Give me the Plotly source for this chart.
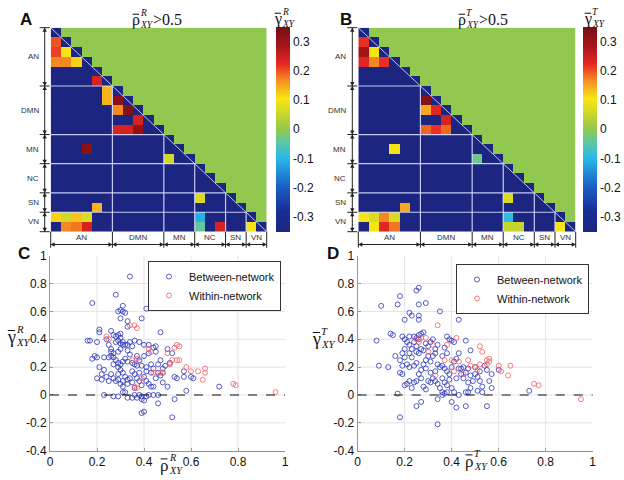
import plotly.graph_objects as go

# ---------------- data ----------------
group_names = ["AN", "DMN", "MN", "NC", "SN", "VN"]
group_sizes = [6, 5, 3, 3, 2, 2]

# Panel A: significant cells of the lower triangle (row, col, value)
a_rows = [1, 2, 2, 3, 3, 3, 5, 6, 7, 7, 8, 8, 9, 10, 10, 10, 12, 13, 17, 18, 19, 19, 19, 19, 19, 20, 20, 20, 20, 20, 20]
a_cols = [0, 0, 1, 0, 1, 2, 4, 5, 5, 6, 6, 7, 8, 6, 7, 8, 3, 11, 14, 4, 0, 1, 2, 3, 14, 1, 2, 3, 14, 16, 19]
a_vals = [0.20, 0.21, 0.10, 0.17, 0.17, 0.12, 0.24, 0.14, 0.14, 0.32, 0.17, 0.33, 0.24, 0.24, 0.24, 0.31,
          0.32, 0.06, 0.07, 0.14, 0.12, 0.06, 0.13, 0.07, -0.11, 0.17, 0.18, 0.24, -0.04, 0.24, 0.10]

# Panel B
b_rows = [1, 2, 2, 3, 3, 3, 7, 8, 8, 9, 10, 10, 10, 12, 13, 17, 18, 19, 19, 19, 19, 19, 20, 20, 20, 20, 20, 20]
b_cols = [0, 0, 1, 0, 1, 2, 6, 6, 7, 8, 6, 7, 8, 3, 11, 14, 4, 0, 1, 2, 3, 14, 1, 2, 3, 14, 15, 19]
b_vals = [0.22, 0.29, 0.10, 0.23, 0.17, 0.22, 0.33, 0.15, 0.23, 0.24, 0.19, 0.22, 0.19, 0.10, -0.03,
          0.07, 0.15, 0.10, 0.07, 0.17, 0.07, -0.09, 0.10, 0.23, 0.18, 0.05, 0.05, 0.10]

z_floor = -0.35   # non-significant cells
z_upper = 0.0     # upper triangle
cbar_vals = [-0.3, -0.2, -0.1, 0, 0.1, 0.2, 0.3]
cbar_text = ["-0.3", "-0.2", "-0.1", "0", "0.1", "0.2", "0.3"]

# Panel C (R)
c_between_x = [0.34, 0.28, 0.18, 0.41, 0.29, 0.30, 0.31, 0.31, 0.32, 0.39,
               0.33, 0.30, 0.33, 0.47, 0.21, 0.21, 0.26, 0.16, 0.17, 0.20,
               0.27, 0.28, 0.29, 0.30, 0.30, 0.29, 0.31, 0.30, 0.31, 0.32,
               0.33, 0.34, 0.36, 0.35, 0.38, 0.40, 0.42, 0.44, 0.45, 0.45,
               0.42, 0.40, 0.26, 0.26, 0.27, 0.25, 0.26, 0.27, 0.25, 0.23,
               0.20, 0.19, 0.18, 0.28, 0.29, 0.30, 0.27, 0.29, 0.31, 0.33,
               0.35, 0.36, 0.37, 0.38, 0.39, 0.41, 0.43, 0.44, 0.46, 0.47,
               0.48, 0.49, 0.51, 0.50, 0.52, 0.21, 0.23, 0.22, 0.24, 0.26,
               0.27, 0.28, 0.29, 0.30, 0.31, 0.32, 0.33, 0.34, 0.35, 0.36,
               0.37, 0.38, 0.40, 0.41, 0.42, 0.43, 0.44, 0.45, 0.46, 0.48,
               0.50, 0.53, 0.54, 0.57, 0.58, 0.57, 0.60, 0.61, 0.72, 0.23,
               0.27, 0.29, 0.31, 0.32, 0.33, 0.35, 0.36, 0.37, 0.38, 0.39,
               0.39, 0.40, 0.41, 0.42, 0.44, 0.46, 0.46, 0.53, 0.39, 0.40,
               0.52, 0.22, 0.20, 0.25, 0.30, 0.31, 0.36, 0.24, 0.28, 0.33,
               0.37, 0.34, 0.32, 0.29, 0.30, 0.43, 0.41, 0.38, 0.35, 0.33,
               0.31, 0.29, 0.39, 0.47, 0.48]
c_between_y = [0.85, 0.72, 0.66, 0.62, 0.60, 0.61, 0.60, 0.64, 0.59, 0.55,
               0.53, 0.55, 0.49, 0.45, 0.47, 0.45, 0.46, 0.39, 0.39, 0.38,
               0.43, 0.42, 0.43, 0.44, 0.41, 0.39, 0.38, 0.37, 0.36, 0.36,
               0.36, 0.38, 0.39, 0.35, 0.38, 0.36, 0.36, 0.34, 0.35, 0.31,
               0.30, 0.28, 0.33, 0.31, 0.30, 0.36, 0.28, 0.27, 0.27, 0.27,
               0.27, 0.28, 0.26, 0.25, 0.23, 0.22, 0.22, 0.20, 0.24, 0.24,
               0.23, 0.22, 0.21, 0.25, 0.21, 0.20, 0.22, 0.19, 0.22, 0.25,
               0.19, 0.21, 0.23, 0.33, 0.30, 0.20, 0.18, 0.15, 0.13, 0.15,
               0.12, 0.10, 0.15, 0.18, 0.16, 0.13, 0.11, 0.12, 0.17, 0.15,
               0.12, 0.10, 0.13, 0.10, 0.08, 0.06, 0.06, 0.12, 0.16, 0.09,
               0.06, 0.13, 0.12, 0.13, 0.03, 0.17, 0.13, 0.12, 0.06, 0.00,
               -0.01, -0.01, 0.02, 0.02, -0.02, -0.02, 0.00, -0.02, 0.00, -0.01,
               -0.03, -0.04, -0.01, 0.00, 0.00, 0.00, -0.06, -0.03, -0.13, -0.12,
               -0.16, 0.11, 0.12, 0.10, 0.08, 0.06, 0.05, 0.40, 0.38, 0.32,
               0.28, 0.29, 0.26, 0.31, 0.33, 0.16, 0.17, 0.16, 0.09, 0.08,
               0.10, 0.11, 0.07, 0.14, 0.16]
c_within_x = [0.24, 0.25, 0.34, 0.36, 0.37, 0.35, 0.37, 0.38, 0.36, 0.37,
              0.42, 0.43, 0.44, 0.47, 0.48, 0.50, 0.52, 0.53, 0.54, 0.55,
              0.54, 0.55, 0.51, 0.58, 0.60, 0.63, 0.66, 0.66, 0.65, 0.78,
              0.79, 0.96, 0.39]
c_within_y = [0.42, 0.40, 0.50, 0.50, 0.48, 0.25, 0.26, 0.24, 0.06, 0.05,
              0.33, 0.31, 0.16, 0.16, 0.16, 0.30, 0.25, 0.34, 0.36, 0.35,
              0.25, 0.25, 0.22, 0.20, 0.17, 0.17, 0.19, 0.16, 0.11, 0.08,
              0.07, 0.02, 0.12]

# Panel D (T)
d_between_x = [0.25, 0.26, 0.18, 0.10, 0.17, 0.26, 0.29, 0.22, 0.23, 0.26,
               0.26, 0.20, 0.35, 0.43, 0.08, 0.14, 0.15, 0.19, 0.20, 0.22,
               0.24, 0.25, 0.26, 0.27, 0.28, 0.21, 0.22, 0.23, 0.25, 0.25,
               0.26, 0.31, 0.32, 0.38, 0.39, 0.40, 0.41, 0.46, 0.43, 0.48,
               0.19, 0.20, 0.18, 0.21, 0.22, 0.18, 0.19, 0.21, 0.22, 0.24,
               0.25, 0.27, 0.28, 0.29, 0.30, 0.31, 0.32, 0.33, 0.34, 0.35,
               0.36, 0.37, 0.38, 0.39, 0.30, 0.31, 0.32, 0.33, 0.34, 0.35,
               0.36, 0.37, 0.38, 0.40, 0.41, 0.42, 0.43, 0.44, 0.45, 0.46,
               0.47, 0.48, 0.49, 0.50, 0.52, 0.53, 0.54, 0.55, 0.53, 0.57,
               0.56, 0.57, 0.60, 0.73, 0.17, 0.27, 0.25, 0.18, 0.34, 0.34,
               0.40, 0.42, 0.46, 0.55, 0.46, 0.47, 0.51, 0.43, 0.09, 0.13,
               0.19, 0.16, 0.20, 0.23, 0.24, 0.26, 0.27, 0.28, 0.29, 0.23,
               0.20, 0.28, 0.30, 0.33, 0.34, 0.29, 0.31, 0.33, 0.36, 0.37,
               0.39, 0.40, 0.41, 0.42, 0.44, 0.45, 0.47, 0.48, 0.51, 0.52,
               0.50, 0.24, 0.26, 0.27, 0.29, 0.36, 0.37, 0.38, 0.38, 0.36,
               0.25, 0.22]
d_between_y = [0.75, 0.77, 0.71, 0.64, 0.65, 0.65, 0.66, 0.59, 0.57, 0.57,
               0.54, 0.54, 0.60, 0.54, 0.39, 0.44, 0.43, 0.42, 0.40, 0.42,
               0.42, 0.41, 0.43, 0.44, 0.45, 0.38, 0.36, 0.33, 0.31, 0.35,
               0.30, 0.38, 0.40, 0.42, 0.40, 0.39, 0.38, 0.39, 0.30, 0.32,
               0.30, 0.27, 0.25, 0.22, 0.20, 0.16, 0.15, 0.08, 0.10, 0.09,
               0.10, 0.18, 0.22, 0.25, 0.28, 0.24, 0.28, 0.30, 0.22, 0.20,
               0.21, 0.19, 0.17, 0.15, 0.10, 0.09, 0.12, 0.10, 0.08, 0.05,
               0.02, 0.01, 0.07, 0.05, 0.02, 0.12, 0.19, 0.19, 0.20, 0.16,
               0.19, 0.14, 0.10, 0.15, 0.10, 0.06, 0.21, 0.18, 0.02, 0.15,
               0.10, 0.05, 0.18, 0.03, 0.01, -0.05, -0.08, -0.16, -0.21, -0.03,
               -0.05, -0.09, -0.08, -0.08, 0.02, 0.02, 0.03, 0.00, 0.21, 0.20,
               0.21, 0.28, 0.33, 0.27, 0.21, 0.15, 0.12, 0.06, 0.04, 0.05,
               0.07, 0.32, 0.35, 0.33, 0.36, 0.19, 0.16, 0.17, 0.12, 0.09,
               0.11, 0.20, 0.24, 0.26, 0.15, 0.12, 0.09, 0.05, 0.13, 0.17,
               0.20, 0.38, 0.40, 0.33, 0.37, 0.28, 0.34, 0.30, 0.02, 0.00,
               0.23, 0.30]
d_within_x = [0.25, 0.26, 0.27, 0.29, 0.32, 0.34, 0.38, 0.42, 0.37, 0.40,
              0.43, 0.47, 0.33, 0.45, 0.48, 0.50, 0.52, 0.53, 0.55, 0.56,
              0.55, 0.56, 0.52, 0.51, 0.60, 0.61, 0.64, 0.65, 0.75, 0.77,
              0.95, 0.41, 0.30]
d_within_y = [0.40, 0.38, 0.41, 0.41, 0.36, 0.50, 0.36, 0.41, 0.25, 0.25,
              0.24, 0.25, 0.14, 0.15, 0.21, 0.20, 0.35, 0.31, 0.25, 0.24,
              0.22, 0.26, 0.22, 0.18, 0.21, 0.17, 0.14, 0.21, 0.08, 0.07,
              -0.03, 0.17, 0.31]

sc_xticks = [0, 0.2, 0.4, 0.6, 0.8, 1]
sc_xtext = ["0", "0.2", "0.4", "0.6", "0.8", "1"]
sc_yticks = [-0.4, -0.2, 0, 0.2, 0.4, 0.6, 0.8, 1]
sc_ytext = ["-0.4", "-0.2", "0", "0.2", "0.4", "0.6", "0.8", "1"]

# ---------------- helpers ----------------
W, H = 624, 480
N = sum(group_sizes)
bounds = [0]
for s in group_sizes:
    bounds.append(bounds[-1] + s)


def build(rows, cols, vals):
    z = [[z_upper if c > r else z_floor for c in range(N)] for r in range(N)]
    for r, c, v in zip(rows, cols, vals):
        z[r][c] = v
    return z


def px(x):
    return x / W


def py(y):
    return 1 - y / H


jet = [
    [0.00, 'rgb(28,38,128)'],
    [0.10, 'rgb(25,45,150)'],
    [0.22, 'rgb(25,95,195)'],
    [0.36, 'rgb(40,185,235)'],
    [0.44, 'rgb(95,200,160)'],
    [0.50, 'rgb(145,200,80)'],
    [0.58, 'rgb(205,215,40)'],
    [0.65, 'rgb(250,230,20)'],
    [0.74, 'rgb(245,140,35)'],
    [0.82, 'rgb(230,40,35)'],
    [0.91, 'rgb(165,20,25)'],
    [1.00, 'rgb(115,15,20)'],
]

shapes = []
annotations = []


def heat_decor(xa, ya, wpx, hpx):
    xr, yr = xa + ' domain', ya + ' domain'
    sep = dict(color='rgba(215,220,255,0.9)', width=1.2)
    for b in bounds[1:-1]:
        f = b / N
        shapes.append(dict(type='line', xref=xr, yref=yr, x0=0, x1=f, y0=1 - f, y1=1 - f, line=sep))
        shapes.append(dict(type='line', xref=xr, yref=yr, x0=f, x1=f, y0=1 - f, y1=0, line=sep))
    shapes.append(dict(type='line', xref=xr, yref=yr, x0=0, y0=1, x1=1, y1=0,
                       line=dict(color='rgba(215,220,255,0.85)', width=1)))
    blk = dict(color='#222', width=1)
    xl = -6 / wpx
    shapes.append(dict(type='line', xref=xr, yref=yr, x0=xl, x1=xl, y0=0, y1=1, line=blk))
    for b in bounds:
        yy = 1 - b / N
        shapes.append(dict(type='line', xref=xr, yref=yr, x0=-11 / wpx, x1=-1 / wpx, y0=yy, y1=yy, line=blk))
    ah, aw = 4.0, 2.2
    for i in range(len(group_sizes)):
        yt, yb = 1 - bounds[i] / N, 1 - bounds[i + 1] / N
        for tip, base in ((yt, yt - ah / hpx), (yb, yb + ah / hpx)):
            shapes.append(dict(type='path', xref=xr, yref=yr, fillcolor='#222', line=dict(width=0),
                               path=f"M {xl},{tip} L {xl - aw / wpx},{base} L {xl + aw / wpx},{base} Z"))
        annotations.append(dict(xref=xr, yref=yr, x=-10 / wpx, y=1 - (bounds[i] + bounds[i + 1]) / 2 / N,
                                xanchor='right', yanchor='middle', showarrow=False, text=group_names[i],
                                font=dict(family='Liberation Sans, Arial', size=8, color='#333')))
    yl = -12.8 / hpx
    shapes.append(dict(type='line', xref=xr, yref=yr, x0=0, x1=1, y0=yl, y1=yl, line=blk))
    for b in bounds:
        xx = b / N
        shapes.append(dict(type='line', xref=xr, yref=yr, x0=xx, x1=xx, y0=0, y1=-16 / hpx, line=blk))
    for i in range(len(group_sizes)):
        x0, x1 = bounds[i] / N, bounds[i + 1] / N
        for tip, base in ((x0, x0 + ah / wpx), (x1, x1 - ah / wpx)):
            shapes.append(dict(type='path', xref=xr, yref=yr, fillcolor='#222', line=dict(width=0),
                               path=f"M {tip},{yl} L {base},{yl - aw / hpx} L {base},{yl + aw / hpx} Z"))
        annotations.append(dict(xref=xr, yref=yr, x=(x0 + x1) / 2, y=-6.3 / hpx,
                                xanchor='center', yanchor='middle', showarrow=False, text=group_names[i],
                                font=dict(family='Liberation Sans, Arial', size=8, color='#333')))


def scatter_decor(xa, ya):
    for v in sc_yticks[1:-1]:
        shapes.append(dict(type='line', xref=xa + ' domain', yref=ya, x0=0, x1=1, y0=v, y1=v, layer='below',
                           line=dict(color='#e4e4e4', width=1)))
    for v in sc_xticks[1:-1]:
        shapes.append(dict(type='line', xref=xa, yref=ya + ' domain', x0=v, x1=v, y0=0, y1=1, layer='below',
                           line=dict(color='#e4e4e4', width=1)))
    shapes.append(dict(type='line', xref=xa + ' domain', yref=ya, x0=0, x1=1, y0=0, y1=0,
                       line=dict(color='#111', width=1.2, dash='dash')))


serif = 'Liberation Serif, Times New Roman, serif'


def txt(x, y, text, size, anchor='left', family=serif):
    annotations.append(dict(xref='paper', yref='paper', x=px(x), y=py(y), text=text, showarrow=False,
                            xanchor=anchor, yanchor='middle', borderpad=0,
                            font=dict(family=family, size=size, color='#111')))


def math_label(x0, yc, base, sup, s, tail=''):
    """base glyph with overline, stacked sup / sub 'XY', optional tail text"""
    txt(x0, yc, base, s)
    shapes.append(dict(type='line', xref='paper', yref='paper',
                       x0=px(x0 + 0.1 * s), x1=px(x0 + 0.5 * s),
                       y0=py(yc - 0.36 * s), y1=py(yc - 0.36 * s), line=dict(color='#111', width=1)))
    txt(x0 + 0.52 * s, yc - 0.47 * s, '<i>' + sup + '</i>', 0.6 * s)
    txt(x0 + 0.52 * s, yc + 0.3 * s, '<i>XY</i>', 0.6 * s)
    if tail:
        txt(x0 + 0.52 * s + 0.6 * s * 1.35, yc - 0.06 * s, tail, s)


# ---------------- figure ----------------
fig = go.Figure()

cb_common = dict(len=205 / H, lenmode='fraction', y=py(129.2), yanchor='middle', thickness=14,
                 thicknessmode='pixels', xanchor='left', xpad=0, ypad=0, outlinewidth=0,
                 tickvals=cbar_vals, ticktext=cbar_text, ticks='',
                 tickfont=dict(family='Liberation Sans, Arial', size=12, color='#111'))

fig.add_trace(go.Heatmap(z=build(a_rows, a_cols, a_vals), xaxis='x', yaxis='y',
                         colorscale=jet, zmin=-0.35, zmax=0.35, hoverinfo='skip',
                         colorbar=dict(x=px(276), **cb_common)))
fig.add_trace(go.Heatmap(z=build(b_rows, b_cols, b_vals), xaxis='x2', yaxis='y2',
                         colorscale=jet, zmin=-0.35, zmax=0.35, hoverinfo='skip',
                         colorbar=dict(x=px(583), **cb_common)))

blue = 'rgba(45,55,185,0.8)'
red = 'rgba(245,95,95,0.8)'
mk = dict(symbol='circle-open', size=5, line=dict(width=1))
fig.add_trace(go.Scatter(x=c_between_x, y=c_between_y, mode='markers', name='Between-network',
                         xaxis='x3', yaxis='y3', legend='legend', marker=dict(color=blue, **mk)))
fig.add_trace(go.Scatter(x=c_within_x, y=c_within_y, mode='markers', name='Within-network',
                         xaxis='x3', yaxis='y3', legend='legend', marker=dict(color=red, **mk)))
fig.add_trace(go.Scatter(x=d_between_x, y=d_between_y, mode='markers', name='Between-network',
                         xaxis='x4', yaxis='y4', legend='legend2', marker=dict(color=blue, **mk)))
fig.add_trace(go.Scatter(x=d_within_x, y=d_within_y, mode='markers', name='Within-network',
                         xaxis='x4', yaxis='y4', legend='legend2', marker=dict(color=red, **mk)))

heat_decor('x', 'y', 216.0, 204.0)
heat_decor('x2', 'y2', 217.4, 204.0)
scatter_decor('x3', 'y3')
scatter_decor('x4', 'y4')

rho = '\u03c1'
gam = '\u03b3'
math_label(131, 20, rho, 'R', 16, '&gt;0.5')
math_label(457, 20, rho, 'T', 16, '&gt;0.5')
math_label(273, 19, gam, 'R', 16)
math_label(583, 19, gam, 'T', 16)
math_label(6, 337, gam, 'R', 18)
math_label(311, 339, gam, 'T', 18)
math_label(159, 465, rho, 'R', 17)
math_label(464, 461, rho, 'T', 17)

for letter, x, y in (('A', 26, 20), ('B', 346, 20), ('C', 24, 253), ('D', 333, 253)):
    txt(x, y, '<b>' + letter + '</b>', 17, anchor='center', family='Liberation Sans, Arial')

hm_ax = dict(showticklabels=False, showgrid=False, zeroline=False, ticks='', showline=False,
             range=[-0.5, N - 0.5])
hm_ay = dict(showticklabels=False, showgrid=False, zeroline=False, ticks='', showline=False,
             range=[N - 0.5, -0.5])
tick_font = dict(family='Liberation Sans, Arial', size=12, color='#111')
sc_ax = dict(range=[0, 1], tickvals=sc_xticks, ticktext=sc_xtext, showgrid=False, zeroline=False,
             showline=True, linecolor='#dd7a55', linewidth=1, ticks='inside', ticklen=3,
             tickcolor='#999', tickfont=tick_font)
sc_ay = dict(range=[-0.4, 1], tickvals=sc_yticks, ticktext=sc_ytext, showgrid=False, zeroline=False,
             showline=True, linecolor='#999', linewidth=1, ticks='inside', ticklen=3,
             tickcolor='#999', tickfont=tick_font)

leg = dict(xanchor='right', yanchor='top', bgcolor='white', bordercolor='#333', borderwidth=1,
           font=dict(family='Liberation Sans Narrow, Liberation Sans, sans-serif', size=11, color='#111'),
           itemwidth=30, tracegroupgap=0)

fig.update_layout(
    width=W, height=H, margin=dict(l=0, r=0, t=0, b=0, autoexpand=False),
    paper_bgcolor='white', plot_bgcolor='white',
    xaxis=dict(domain=[px(50.7), px(266.7)], anchor='y', **hm_ax),
    yaxis=dict(domain=[py(231.7), py(27.7)], anchor='x', **hm_ay),
    xaxis2=dict(domain=[px(358.3), px(575.7)], anchor='y2', **hm_ax),
    yaxis2=dict(domain=[py(231.7), py(27.7)], anchor='x2', **hm_ay),
    xaxis3=dict(domain=[px(50), px(285)], anchor='y3', **sc_ax),
    yaxis3=dict(domain=[py(450.7), py(255.7)], anchor='x3', **sc_ay),
    xaxis4=dict(domain=[px(357.7), px(592.7)], anchor='y4', **sc_ax),
    yaxis4=dict(domain=[py(450.7), py(255.7)], anchor='x4', **sc_ay),
    legend=dict(x=px(281), y=py(261), **leg),
    legend2=dict(x=px(589), y=py(264), **leg),
    shapes=shapes, annotations=annotations,
    showlegend=True,
)

fig.write_html("out.html", config={'displayModeBar': False},
               post_script="document.body.style.margin='0';document.body.style.overflow='hidden';")
